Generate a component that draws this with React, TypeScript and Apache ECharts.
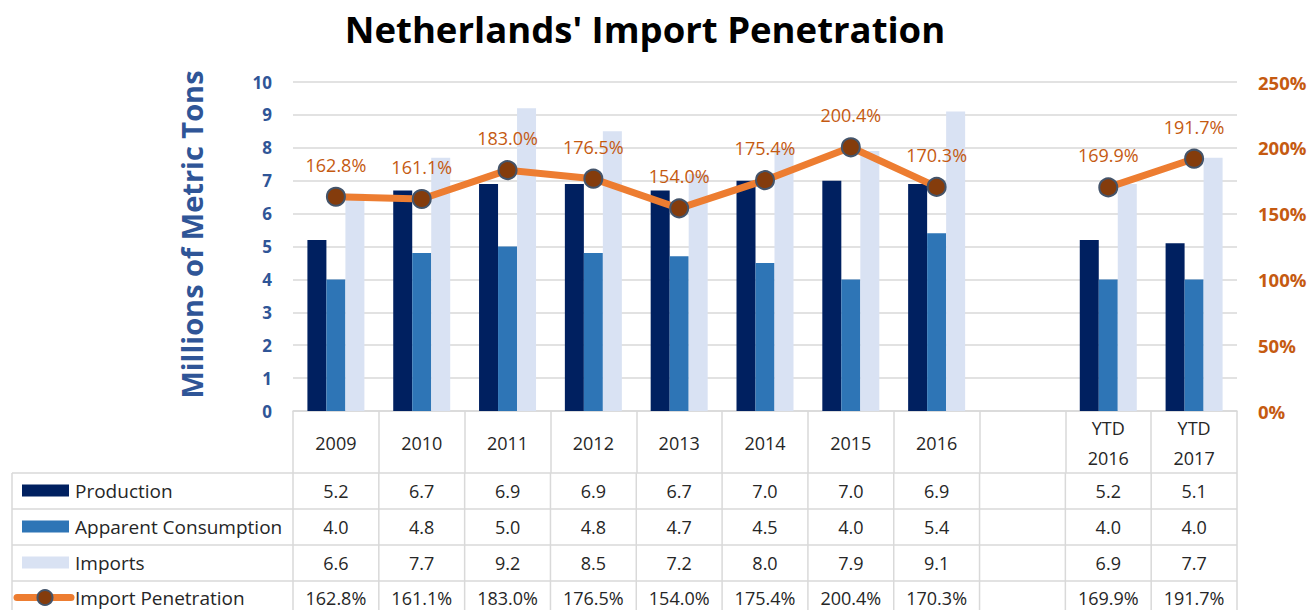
import React, { useEffect, useRef } from "react";
import * as echarts from "echarts";

const categories = ["2009", "2010", "2011", "2012", "2013", "2014", "2015", "2016", "", "YTD\n2016", "YTD\n2017"];
const production = [5.2, 6.7, 6.9, 6.9, 6.7, 7.0, 7.0, 6.9, null, 5.2, 5.1];
const consumption = [4.0, 4.8, 5.0, 4.8, 4.7, 4.5, 4.0, 5.4, null, 4.0, 4.0];
const imports = [6.6, 7.7, 9.2, 8.5, 7.2, 8.0, 7.9, 9.1, null, 6.9, 7.7];
const penetration = [162.8, 161.1, 183.0, 176.5, 154.0, 175.4, 200.4, 170.3, null, 169.9, 191.7];

const seriesNames = ["Production", "Apparent Consumption", "Imports", "Import Penetration"];

const W = 1313;
const H = 610;
const GRID_LEFT = 293;
const GRID_RIGHT = 76;
const GRID_TOP = 82;
const GRID_BOTTOM = 199;
const FONT = "'Open Sans', 'Noto Sans', sans-serif";

const COLORS = {
  production: "#002060",
  consumption: "#2E75B6",
  imports: "#D9E2F3",
  line: "#ED7D31",
  marker: "#843C0C",
  markerBorder: "#44546A",
  grid: "#D9D9D9",
  leftLabel: "#2F5597",
  rightLabel: "#C55A11",
  text: "#262626",
};

export default function App() {
  const ref = useRef<HTMLDivElement>(null);

  useEffect(() => {
    if (!ref.current) return;
    const chart = echarts.init(ref.current, null, { renderer: "svg" });

    const n = categories.length;
    const plotW = W - GRID_LEFT - GRID_RIGHT;
    const colW = plotW / n;
    const axisY = H - GRID_BOTTOM;
    const rowTops = [473, 509, 545, 581];
    const rowBottom = 616;
    const tableLeft = 12;
    const tableRight = GRID_LEFT + plotW;

    const fmt = (v: number | null, pct: boolean) =>
      v == null ? "" : pct ? v.toFixed(1) + "%" : v.toFixed(1);
    const tableRows = [
      { values: production, pct: false },
      { values: consumption, pct: false },
      { values: imports, pct: false },
      { values: penetration, pct: true },
    ];

    const graphics: any[] = [];
    const lineStyle = { stroke: COLORS.grid, lineWidth: 1.5 };
    [...rowTops, rowBottom].forEach((y) => {
      graphics.push({ type: "line", shape: { x1: tableLeft, y1: y, x2: tableRight, y2: y }, style: lineStyle, silent: true });
    });
    graphics.push({ type: "line", shape: { x1: tableLeft, y1: rowTops[0], x2: tableLeft, y2: rowBottom }, style: lineStyle });
    for (let i = 0; i <= n; i++) {
      const x = GRID_LEFT + i * colW;
      graphics.push({ type: "line", shape: { x1: x, y1: rowTops[0], x2: x, y2: rowBottom }, style: lineStyle });
    }
    tableRows.forEach((row, r) => {
      const cy = (rowTops[r] + (rowTops[r + 1] ?? rowTops[r] + 34)) / 2 - 0.5;
      graphics.push({
        type: "text",
        x: 75,
        y: cy,
        style: { text: seriesNames[r], font: `19px ${FONT}`, fill: COLORS.text, textVerticalAlign: "middle", textAlign: "left" },
      });
      row.values.forEach((v, i) => {
        graphics.push({
          type: "text",
          x: GRID_LEFT + (i + 0.5) * colW,
          y: cy,
          style: { text: fmt(v, row.pct), font: `18px ${FONT}`, fill: COLORS.text, textAlign: "center", textVerticalAlign: "middle" },
        });
      });
      if (r < 3) {
        const colr = [COLORS.production, COLORS.consumption, COLORS.imports][r];
        graphics.push({ type: "rect", shape: { x: 22, y: cy - 6, width: 47, height: 12 }, style: { fill: colr } });
      } else {
        graphics.push({ type: "line", shape: { x1: 17, y1: cy, x2: 71, y2: cy }, style: { stroke: COLORS.line, lineWidth: 7, lineCap: "round" } });
        graphics.push({ type: "circle", shape: { cx: 45, cy, r: 7.5 }, style: { fill: COLORS.marker, stroke: COLORS.markerBorder, lineWidth: 2 } });
      }
    });

    chart.setOption({
      animation: false,
      backgroundColor: "#ffffff",
      title: {
        text: "Netherlands' Import Penetration",
        left: 640,
        textAlign: "center",
        top: 5,
        textStyle: { fontFamily: FONT, fontWeight: "bold", fontSize: 36.5, color: "#000000" },
      },
      grid: { left: GRID_LEFT, right: GRID_RIGHT, top: GRID_TOP, bottom: GRID_BOTTOM },
      xAxis: {
        type: "category",
        data: categories,
        axisLine: { show: true, lineStyle: { color: COLORS.grid, width: 1.5 } },
        axisTick: { show: true, interval: 0, length: rowTops[0] - axisY, lineStyle: { color: COLORS.grid, width: 1.5 } },
        axisLabel: {
          interval: 0,
          margin: 32,
          verticalAlign: "middle",
          fontFamily: FONT,
          fontSize: 18,
          lineHeight: 30,
          color: COLORS.text,
        },
      },
      yAxis: [
        {
          type: "value",
          min: 0,
          max: 10,
          interval: 1,
          name: "Millions of Metric Tons",
          nameLocation: "middle",
          nameGap: 87,
          nameTextStyle: { fontFamily: FONT, fontWeight: "bold", fontSize: 29, color: COLORS.leftLabel, padding: [0, 0, 0, 24] },
          axisLine: { show: false },
          axisTick: { show: false },
          axisLabel: { margin: 21, fontFamily: FONT, fontWeight: "bold", fontSize: 17, color: COLORS.leftLabel },
          splitLine: { lineStyle: { color: COLORS.grid, width: 1.5 } },
        },
        {
          type: "value",
          min: 0,
          max: 250,
          interval: 50,
          position: "right",
          axisLine: { show: false },
          axisTick: { show: false },
          axisLabel: { margin: 21, formatter: "{value}%", fontFamily: FONT, fontWeight: "bold", fontSize: 18.5, color: COLORS.rightLabel },
          splitLine: { show: false },
        },
      ],
      series: [
        { name: seriesNames[0], type: "bar", data: production, barWidth: 19, barGap: "0%", itemStyle: { color: COLORS.production } },
        { name: seriesNames[1], type: "bar", data: consumption, barWidth: 19, barGap: "0%", itemStyle: { color: COLORS.consumption } },
        { name: seriesNames[2], type: "bar", data: imports, barWidth: 19, barGap: "0%", itemStyle: { color: COLORS.imports } },
        {
          name: seriesNames[3],
          type: "line",
          yAxisIndex: 1,
          data: penetration,
          connectNulls: false,
          symbol: "circle",
          symbolSize: 18,
          z: 5,
          lineStyle: { color: COLORS.line, width: 7 },
          itemStyle: { color: COLORS.marker, borderColor: COLORS.markerBorder, borderWidth: 2 },
          label: {
            show: true,
            position: "top",
            distance: 13,
            formatter: (p: any) => (p.value == null ? "" : Number(p.value).toFixed(1) + "%"),
            fontFamily: FONT,
            fontSize: 18,
            color: COLORS.rightLabel,
          },
        },
      ],
      graphic: graphics,
    });

    return () => chart.dispose();
  }, []);

  return (
    <div
      ref={ref}
      style={{ position: "fixed", left: 0, top: 0, width: W, height: H, background: "#fff" }}
    />
  );
}
